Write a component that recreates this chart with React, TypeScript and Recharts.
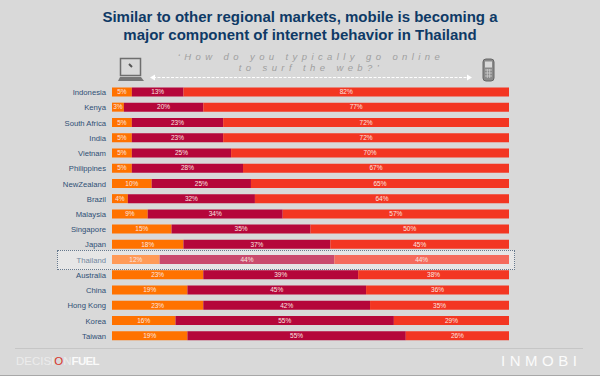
import { BarChart, Bar, XAxis, YAxis, Cell, LabelList } from 'recharts';

const countries = ['Indonesia', 'Kenya', 'South Africa', 'India', 'Vietnam', 'Philippines', 'NewZealand', 'Brazil', 'Malaysia', 'Singapore', 'Japan', 'Thailand', 'Australia', 'China', 'Hong Kong', 'Korea', 'Taiwan'];
const computerShare = [5, 3, 5, 5, 5, 5, 10, 4, 9, 15, 18, 12, 23, 19, 23, 16, 19];
const bothShare = [13, 20, 23, 23, 25, 28, 25, 32, 34, 35, 37, 44, 39, 45, 42, 55, 55];
const mobileShare = [82, 77, 72, 72, 70, 67, 65, 64, 57, 50, 45, 44, 38, 36, 35, 29, 26];

const highlighted = 'Thailand';
const font = '"Liberation Sans", Arial, sans-serif';

const chartData = countries.map((name, i) => ({
  name,
  computer: computerShare[i],
  both: bothShare[i],
  mobile: mobileShare[i],
}));

const series = [
  { key: 'computer', color: '#ff7200', light: '#ff9a57' },
  { key: 'both', color: '#b5063a', light: '#c94a6d' },
  { key: 'mobile', color: '#f33622', light: '#f56a5c' },
];

const CountryTick = ({ x, y, payload }: any) => (
  <text
    x={x}
    y={y}
    dy={3}
    textAnchor="end"
    fontSize={7.7}
    fontFamily={font}
    fill={payload.value === highlighted ? '#72879e' : '#2f4f75'}
  >
    {payload.value}
  </text>
);

const Laptop = () => (
  <svg width="28" height="26" style={{ position: 'absolute', left: 117, top: 57 }}>
    <rect x="3.5" y="1.5" width="20" height="17" fill="#d9d9d9" stroke="#6e6e6e" strokeWidth="1.5" />
    <path d="M12 7l3 3" stroke="#555" strokeWidth="2" />
    <path d="M3 20h21l3 4H1z" fill="#777" />
  </svg>
);

const Phone = () => (
  <svg width="16" height="26" style={{ position: 'absolute', left: 481, top: 56 }}>
    <rect x="2" y="3" width="11" height="22" rx="3" fill="#8a8a8a" stroke="#666" />
    <rect x="4" y="5.5" width="7" height="6" fill="#d9d9d9" />
    <path d="M4 14h7M4 17h7M4 20h7M6.3 13v9M8.7 13v9" stroke="#d0d0d0" strokeWidth="0.8" />
  </svg>
);

const Arrow = () => (
  <svg width="340" height="10" style={{ position: 'absolute', left: 149, top: 73 }}>
    <line x1="4" y1="4.5" x2="320" y2="4.5" stroke="#fff" strokeWidth="1.2" strokeDasharray="3 1.5" />
    <path d="M1 4.5l5-3v6z" fill="#fff" />
    <path d="M323 4.5l-5-3v6z" fill="#fff" />
  </svg>
);

export default function App() {
  return (
    <div style={{ position: 'absolute', left: 0, top: 0, width: 600, height: 376, background: '#d9d9d9', overflow: 'hidden', fontFamily: font }}>
      <div style={{ position: 'absolute', left: 0, width: 600, top: 8, textAlign: 'center', color: '#0f3a66', fontSize: 15, fontWeight: 700, lineHeight: '18px' }}>
        Similar to other regional markets, mobile is becoming a<br />
        major component of internet behavior in Thailand
      </div>
      <div style={{ position: 'absolute', left: 11, width: 600, top: 51, textAlign: 'center', color: '#9f9f9f', fontSize: 9.5, fontStyle: 'italic', letterSpacing: 4.4, lineHeight: '11px' }}>
        ‘How do you typically go online<br />
        to surf the web?’
      </div>
      <Laptop />
      <Phone />
      <Arrow />

      {/* highlight box behind the Thailand row */}
      <div style={{ position: 'absolute', left: 57, top: 250, width: 456, height: 18, background: '#e6e6e6', border: '1px dotted #66788c' }} />

      <div style={{ position: 'absolute', left: 0, top: 0 }}>
        <BarChart
          width={600}
          height={376}
          data={chartData}
          layout="vertical"
          barSize={9}
          margin={{ top: 84.4, right: 91, bottom: 32.4, left: 0 }}
        >
          <XAxis type="number" domain={[0, 100]} hide />
          <YAxis
            type="category"
            dataKey="name"
            width={112}
            interval={0}
            axisLine={false}
            tickLine={false}
            tickMargin={0}
            tick={<CountryTick />}
          />
          {series.map((s) => (
            <Bar key={s.key} dataKey={s.key} stackId="share" fill={s.color} isAnimationActive={false}>
              {countries.map((name) => (
                <Cell key={name} fill={name === highlighted ? s.light : s.color} />
              ))}
              <LabelList
                dataKey={s.key}
                position="center"
                formatter={(v: any) => `${v}%`}
                fill="#fbe6e0"
                fontSize={6.5}
                fontFamily={font}
              />
            </Bar>
          ))}
        </BarChart>
      </div>

      <div style={{ position: 'absolute', left: 15, top: 348, width: 568, height: 1, background: '#c6c6c6' }} />
      <div style={{ position: 'absolute', left: 16, top: 355, fontSize: 11.5, color: '#ececec' }}>
        DECISI<span style={{ color: '#d8352a' }}>O</span>N<span style={{ color: '#fafafa', fontWeight: 700, letterSpacing: -0.7 }}>FUEL</span>
      </div>
      <div style={{ position: 'absolute', left: 501, top: 352, fontSize: 15, color: '#fbfbfb', letterSpacing: 4.5 }}>
        INMOBI
      </div>
      <div style={{ position: 'absolute', left: 0, top: 375, width: 600, height: 1, background: '#a8a8a8' }} />
    </div>
  );
}
